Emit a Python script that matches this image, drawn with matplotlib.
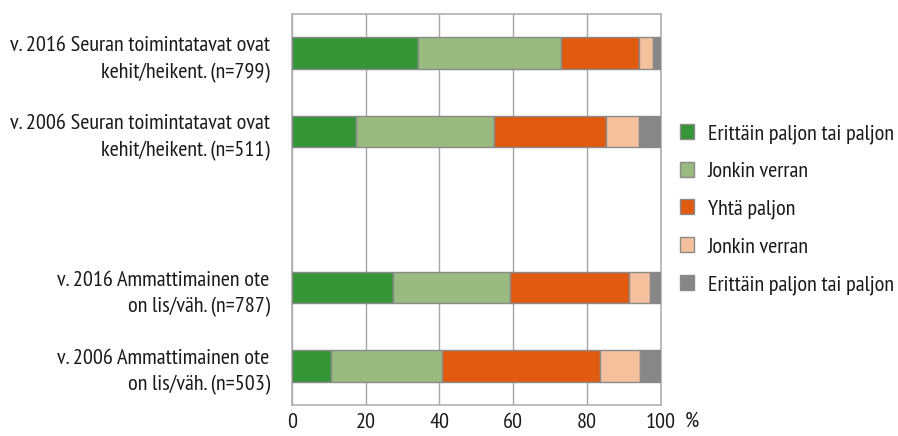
import numpy as np
import matplotlib
matplotlib.use("Agg")
import matplotlib.pyplot as plt

plt.rcParams["font.family"] = ["PT Sans Narrow", "DejaVu Sans"]

# rows from top to bottom
rivit = [
    "v. 2016 Seuran toimintatavat ovat\nkehit/heikent. (n=799)",
    "v. 2006 Seuran toimintatavat ovat\nkehit/heikent. (n=511)",
    "v. 2016 Ammattimainen ote\non lis/väh. (n=787)",
    "v. 2006 Ammattimainen ote\non lis/väh. (n=503)",
]
paikat = [0, 1, 3, 4]

sarjat = [
    "Erittäin paljon tai paljon",
    "Jonkin verran",
    "Yhtä paljon",
    "Jonkin verran",
    "Erittäin paljon tai paljon",
]
erittain_plus = [34.3, 17.3, 27.3, 10.7]
jonkin_plus = [38.6, 37.4, 31.8, 30.1]
yhta = [21.1, 30.3, 32.2, 42.6]
jonkin_miinus = [3.8, 9.0, 5.8, 10.8]
erittain_miinus = [2.2, 6.0, 2.9, 5.8]

varit = ["#359537", "#99bb80", "#e05a10", "#f5c19c", "#878787"]

fs = 16

fig = plt.figure(figsize=(8.98, 4.36), dpi=100)
ax = fig.add_axes([0.325, 0.071, 0.411, 0.897])

vasen = np.zeros(len(paikat))
for nimi, arvot, vari in zip(sarjat,
                             [erittain_plus, jonkin_plus, yhta, jonkin_miinus, erittain_miinus],
                             varit):
    ax.barh(paikat, arvot, left=vasen, height=0.4, color=vari,
            edgecolor="#8a8a8a", linewidth=1, label=nimi, zorder=3)
    vasen += np.array(arvot)

ax.set_xlim(0, 100)
ax.set_ylim(4.5, -0.5)
ax.set_xticks([0, 20, 40, 60, 80, 100])
ax.set_yticks(paikat)
ax.set_yticklabels(rivit, linespacing=1.5, ha="right")
ax.tick_params(length=0, labelsize=fs, colors="#1a1a1a")
ax.tick_params(axis="x", pad=6)
ax.tick_params(axis="y", pad=16)
ax.grid(axis="x", color="#a6a6a6", linewidth=1, zorder=0)
for s in ax.spines.values():
    s.set_color("#b0b0b0")
    s.set_linewidth(1.2)

ax.text(108.5, -0.016, "%", transform=ax.get_xaxis_transform(),
        ha="center", va="top", fontsize=fs, color="#1a1a1a")

fig.legend(loc="center left", bbox_to_anchor=(0.757, 0.52), frameon=False,
           fontsize=fs, handlelength=0.65, handleheight=0.65,
           labelspacing=0.82, handletextpad=0.62, borderpad=0,
           borderaxespad=0, labelcolor="#1a1a1a")

fig.savefig("out.png", dpi=100)
